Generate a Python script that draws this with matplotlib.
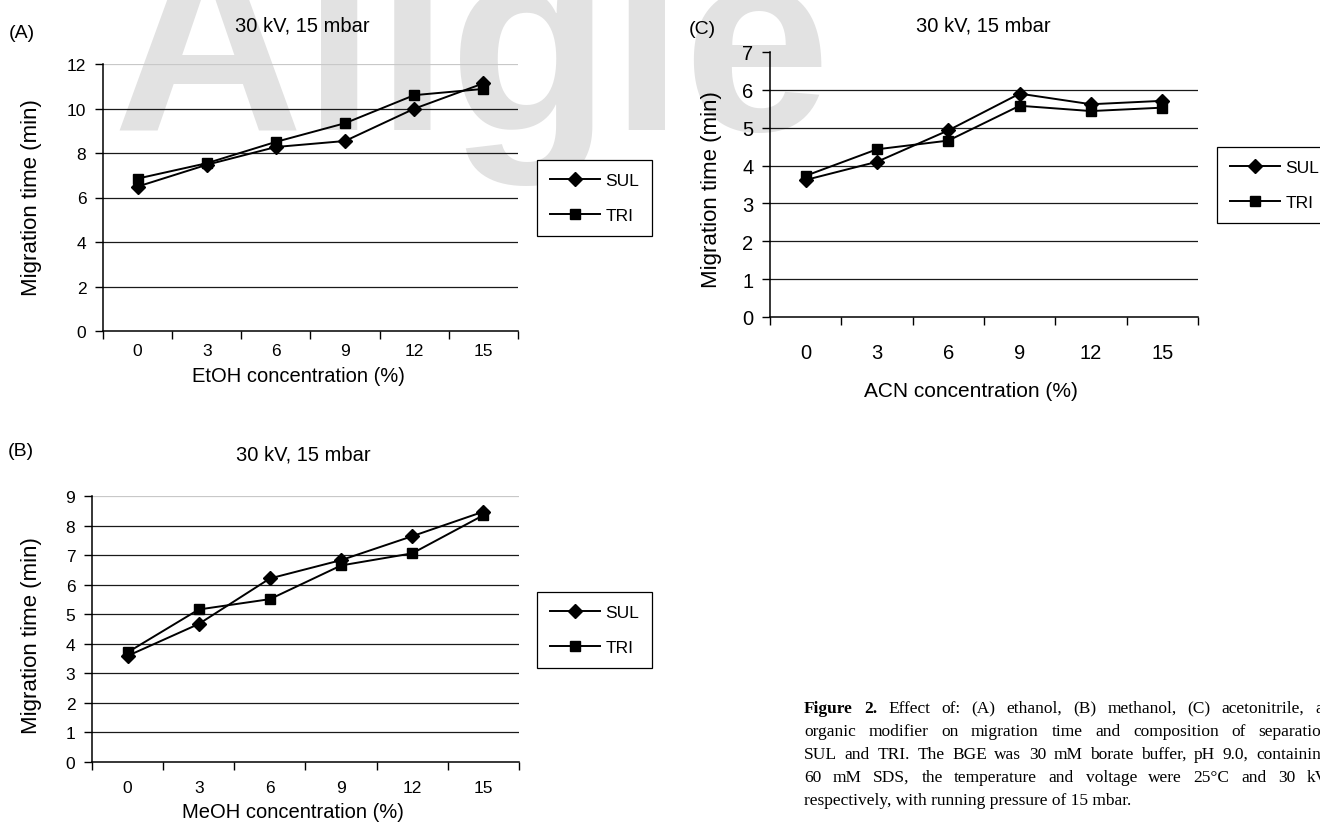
import numpy as np
import matplotlib.pyplot as plt

plt.rcParams['font.family'] = ['Liberation Sans', 'DejaVu Sans']

# data ===============================================================
conc = [0, 3, 6, 9, 12, 15]

etoh_sul = [6.49, 7.47, 8.27, 8.54, 9.99, 11.13]
etoh_tri = [6.85, 7.54, 8.50, 9.34, 10.60, 10.88]

meoh_sul = [3.59, 4.67, 6.21, 6.83, 7.64, 8.47]
meoh_tri = [3.71, 5.16, 5.51, 6.65, 7.06, 8.35]

acn_sul = [3.62, 4.10, 4.93, 5.90, 5.62, 5.71]
acn_tri = [3.73, 4.43, 4.66, 5.58, 5.44, 5.53]

series = ['SUL', 'TRI']
# ====================================================================

W, H = 1320, 829
fig = plt.figure(figsize=(W / 100, H / 100), dpi=100)


def px_axes(left, top, right, bottom):
    return fig.add_axes([left / W, 1 - bottom / H, (right - left) / W,
                         (bottom - top) / H])


def ftext(x, y, s, **kw):
    return fig.text(x / W, 1 - y / H, s, **kw)


# watermark behind everything
ftext(112, 130, 'Allgie', fontsize=190, fontweight='bold', color='#e2e2e2',
      ha='left', va='baseline', zorder=-10)


def panel(box, sul, tri, ymax, ystep, top_grid, legend_xy, xpad, tsize):
    ax = px_axes(*box)
    ax.patch.set_alpha(0)
    x = np.arange(len(conc))
    for yv in range(ystep, ymax + 1, ystep):
        if yv == ymax:
            if top_grid:
                ax.axhline(yv, color='#c8c8c8', lw=0.9, zorder=1)
        else:
            ax.axhline(yv, color='#1a1a1a', lw=0.9, zorder=1)
    ax.plot(x, sul, '-D', color='black', lw=1.4, ms=7, label=series[0],
            zorder=3)
    ax.plot(x, tri, '-s', color='black', lw=1.4, ms=7.5, label=series[1],
            zorder=3)
    ax.set_xlim(-0.5, len(conc) - 0.5)
    ax.set_ylim(0, ymax)
    ax.set_yticks(range(0, ymax + 1, ystep))
    ax.set_xticks(np.arange(-0.5, len(conc), 1))
    ax.set_xticklabels([])
    ax.set_xticks(x, minor=True)
    ax.set_xticklabels([str(c) for c in conc], minor=True)
    ax.tick_params(axis='x', which='major', length=6, width=1, direction='out')
    ax.tick_params(axis='x', which='minor', length=0, pad=xpad,
                   labelsize=tsize)
    ax.tick_params(axis='y', length=6, width=1, direction='out', pad=6,
                   labelsize=tsize)
    for s in ['top', 'right']:
        ax.spines[s].set_visible(False)
    for s in ['left', 'bottom']:
        ax.spines[s].set_linewidth(1.1)
    leg = ax.legend(loc='upper left',
                    bbox_to_anchor=(legend_xy[0] / W, 1 - legend_xy[1] / H),
                    bbox_transform=fig.transFigure, fancybox=False,
                    framealpha=1, edgecolor='black', fontsize=12.5,
                    handlelength=2.9, handletextpad=0.3, labelspacing=1.15,
                    borderpad=0.75, borderaxespad=0)
    leg.get_frame().set_linewidth(0.9)
    return ax


axA = panel((103, 65, 518, 332), etoh_sul, etoh_tri, 12, 2, True,
            (537, 161), 9, 12.5)
axB = panel((92, 497, 519, 763), meoh_sul, meoh_tri, 9, 1, True,
            (537, 593), 13, 12.5)
axC = panel((770, 53, 1198, 318), acn_sul, acn_tri, 7, 1, False,
            (1217, 148), 19, 14.5)

# panel letters, titles, axis labels
for xy, s in [((9, 33), '(A)'), ((8, 452), '(B)'), ((689, 30), '(C)')]:
    ftext(*xy, s, fontsize=14, ha='left', va='center')
for xy in [(302, 26), (303, 455), (983, 26)]:
    ftext(*xy, '30 kV, 15 mbar', fontsize=14.5, ha='center', va='center')
for xy, fs in [((32, 198), 16), ((32, 636), 16), ((712, 190), 16)]:
    ftext(*xy, 'Migration time (min)', fontsize=fs, rotation=90,
          ha='center', va='center')
ftext(298, 377, 'EtOH concentration (%)', fontsize=14.5, ha='center',
      va='center')
ftext(293, 813, 'MeOH concentration (%)', fontsize=14.5, ha='center',
      va='center')
ftext(971, 392, 'ACN concentration (%)', fontsize=15, ha='center',
      va='center')

# caption, justified to a column that runs past the right edge
cap_lines = [
    'Figure 2. Effect of: (A) ethanol, (B) methanol, (C) acetonitrile, as',
    'organic modifier on migration time and composition of separation',
    'SUL and TRI. The BGE was 30 mM borate buffer, pH 9.0, containing',
    '60 mM SDS, the temperature and voltage were 25\u00b0C and 30 kV,',
    'respectively, with running pressure of 15 mbar.',
]
cap_left, cap_right = 804, 1330
cap = dict(fontsize=12.5, family=['Liberation Serif', 'DejaVu Serif'],
           va='baseline', ha='left')
renderer = fig.canvas.get_renderer()
for i, line in enumerate(cap_lines):
    y = 713 + 23 * i
    words = line.split(' ')
    if i == len(cap_lines) - 1:
        ftext(cap_left, y, line, **cap)
        continue
    texts = []
    for j, w in enumerate(words):
        bold = i == 0 and j < 2
        texts.append(ftext(cap_left, y, w,
                           fontweight='bold' if bold else 'normal', **cap))
    widths = [t.get_window_extent(renderer).width for t in texts]
    gap = (cap_right - cap_left - sum(widths)) / (len(words) - 1)
    xpos = cap_left
    for t, w in zip(texts, widths):
        t.set_x(xpos / W)
        xpos += w + gap

fig.savefig('out.png', dpi=100)
